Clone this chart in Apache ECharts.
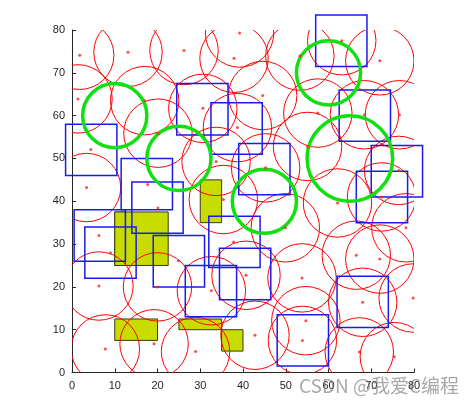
<!DOCTYPE html>
<html><head><meta charset="utf-8">
<script src="https://cdn.jsdelivr.net/npm/echarts@6/dist/echarts.min.js"></script>
<style>html,body{margin:0;padding:0;background:#fff}#c{width:473px;height:405px}</style>
</head><body><div id="c"></div>
<script>
// tick labels
const xTicks = [0,10,20,30,40,50,60,70,80];
const yTicks = [0,10,20,30,40,50,60,70,80];

// red nodes (dots)
const dotX = [1.8,13.1,26.2,37.9,39.2,63.1,53.3,72.0,1.4,17.0,30.6,44.6,38.7,20.1,57.5,68.4,76.6,4.4,55.1,33.7,45.3,76.4,3.4,17.7,20.1,35.4,62.1,72.4,6.3,9.0,37.8,24.9,49.9,78.1,66.5,72.0,40.7,53.8,6.3,20.0,32.6,79.8,68.0,54.7,42.8,53.9,67.2,75.4,7.8,19.2,28.9];
const dotY = [74.1,74.8,75.2,73.4,79.3,77.5,73.9,72.8,63.9,63.5,61.7,64.7,57.2,55.9,60.6,60.2,60.2,52.1,52.8,49.3,47.8,47.2,43.2,43.9,38.4,40.4,39.6,41.0,32.0,28.0,30.5,26.1,33.8,33.8,27.4,26.5,22.7,22.1,20.2,20.0,19.1,17.4,16.4,12.1,8.7,7.5,4.8,3.7,5.5,6.7,4.9];

// red coverage circles (centre x, centre y, radius)
const redCX = [1.8,13.1,26.2,37.9,39.2,63.1,53.3,72.0,1.4,17.0,30.6,44.6,38.7,20.1,57.5,68.4,76.6,55.1,33.7,45.3,76.4,3.4,35.4,62.1,72.4,49.9,78.1,66.5,72.0,40.7,53.8,6.3,20.0,32.6,79.8,68.0,54.7,42.8,53.9,67.2,75.4,7.8,19.2,28.9];
const redCY = [74.1,74.8,75.2,73.4,79.3,77.5,73.9,72.8,63.9,63.5,61.7,64.7,57.2,55.9,60.6,60.2,60.2,52.8,49.3,47.8,47.2,43.2,40.4,39.6,41.0,33.8,33.8,27.4,26.5,22.7,22.1,20.2,20.0,19.1,17.4,16.4,12.1,8.7,7.5,4.8,3.7,5.5,6.7,4.9];
const redR = 8;

// green target circles
const greenCX = [10,25,60,65,45];
const greenCY = [60,50,70,50,40];
const greenR  = [7.5,7.5,7.5,10,7.5];

// blue square obstacles [x1, y1, x2, y2]
const blueX1 = [57,24.5,32.5,-1.5,11.5,14,62.5,39,70,66.5,0.5,3,19,26.5,32,34.5,48,62];
const blueY1 = [71.5,55.5,51,46,38,32.5,54,41.5,41,35,26,22,20,13,24.5,17,1.5,10.5];
const blueX2 = [69,36.5,44.5,10.5,23.5,26,74.5,51,82,78.5,12.5,15,31,38.5,44,46.5,60,74];
const blueY2 = [83.5,67.5,63,58,50,44.5,66,53.5,53,47,38,34,32,25,36.5,29,13.5,22.5];

// yellow-green filled blocks [x1, y1, x2, y2]
const yelX1 = [10,10,30,10,25,35];
const yelY1 = [25,25,35,7.5,10,5];
const yelX2 = [22.5,12.5,35,20,35,40];
const yelY2 = [37.5,37.5,45,12.5,12.5,10];

const chart = echarts.init(document.getElementById('c'));

function rectItem(style){
  return function(params, api){
    const p1 = api.coord([api.value(0), api.value(3)]);
    const p2 = api.coord([api.value(2), api.value(1)]);
    return {type:'rect', shape:{x:p1[0], y:p1[1], width:p2[0]-p1[0], height:p2[1]-p1[1]}, style: style};
  };
}
function circItem(style){
  return function(params, api){
    const c = api.coord([api.value(0), api.value(1)]);
    const s = api.size([api.value(2), api.value(2)]);
    return {type:'circle', shape:{cx:c[0], cy:c[1], r:(s[0]+s[1])/2}, style: style};
  };
}

const blueData = blueX1.map((v,i)=>[v, blueY1[i], blueX2[i], blueY2[i]]);
const yelData = yelX1.map((v,i)=>[v, yelY1[i], yelX2[i], yelY2[i]]);
const redData = redCX.map((v,i)=>[v, redCY[i], redR]);
const greenData = greenCX.map((v,i)=>[v, greenCY[i], greenR[i]]);
const dotData = dotX.map((v,i)=>[v, dotY[i]]);

const axisCommon = {
  type:'value', min:0, max:80, interval:10,
  axisLine:{show:true, lineStyle:{color:'#262626', width:1}},
  axisTick:{show:true, inside:true, length:4, lineStyle:{color:'#262626'}},
  splitLine:{show:false},
  axisLabel:{color:'#262626', fontSize:11, fontFamily:'Liberation Sans, Arial, sans-serif'}
};

chart.setOption({
  animation:false,
  backgroundColor:'#fff',
  grid:{left:72, right:59, top:30, bottom:32.5},
  xAxis: Object.assign({}, axisCommon, {axisLabel:Object.assign({}, axisCommon.axisLabel, {margin:8, formatter:(v)=> xTicks.includes(v)? String(v):''})}),
  yAxis: Object.assign({}, axisCommon, {axisLabel:Object.assign({}, axisCommon.axisLabel, {margin:7, formatter:(v)=> yTicks.includes(v)? String(v):''})}),
  series:[
    {type:'custom', data:yelData, clip:false, z:1,
     renderItem: rectItem({fill:'#c8dc00', stroke:'#3a3a1a', lineWidth:1})},
    {type:'custom', data:redData, clip:true, z:2,
     renderItem: circItem({fill:'none', stroke:'#ff0000', lineWidth:1})},
    {type:'custom', data:blueData, clip:false, z:3,
     renderItem: rectItem({fill:'none', stroke:'#1a1aee', lineWidth:1.5})},
    {type:'custom', data:greenData, clip:false, z:4,
     renderItem: circItem({fill:'none', stroke:'#10e010', lineWidth:3.5})},
    {type:'scatter', data:dotData, symbol:'circle', symbolSize:3, z:5,
     itemStyle:{color:'#ff2020'}}
  ],
  graphic:[
    {type:'text', left:299, top:376, z:100,
     style:{text:'CSDN @我爱C编程', fontSize:19, fontFamily:'Noto Sans CJK SC, sans-serif', fill:'rgba(110,110,110,0.6)'}}
  ]
});
</script>
</body></html>
